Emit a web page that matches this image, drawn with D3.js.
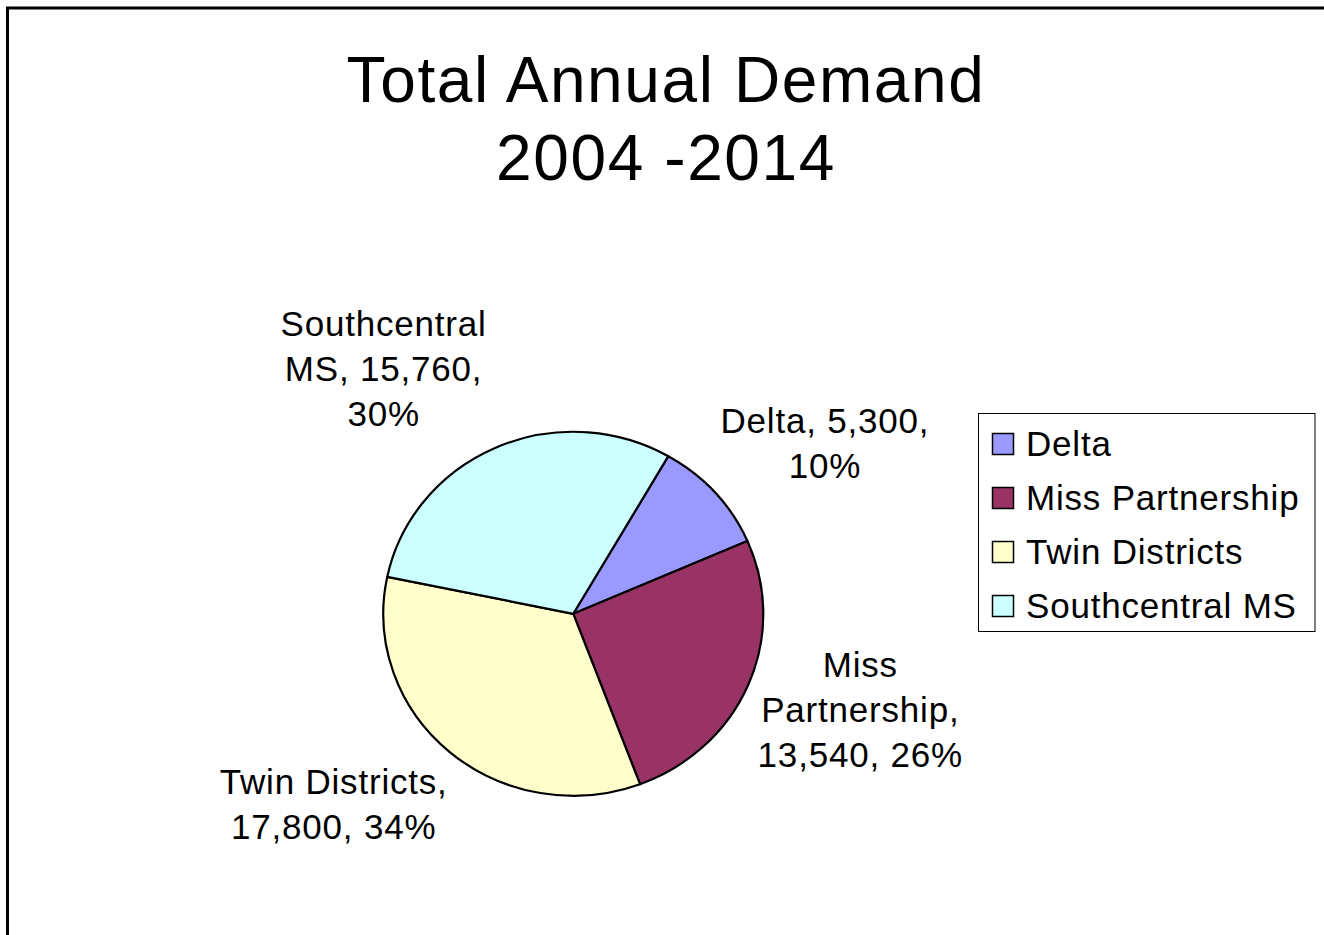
<!DOCTYPE html>
<html>
<head>
<meta charset="utf-8">
<script src="https://cdn.jsdelivr.net/npm/d3@7/dist/d3.min.js"></script>
<style>
  html, body { margin: 0; padding: 0; background: #fff; overflow: hidden; }
  svg { display: block; }
  text { font-family: "Liberation Sans", Arial, Helvetica, sans-serif; fill: #000; }
</style>
</head>
<body>
<svg id="chart" width="1324" height="935"></svg>
<script>
// Regional demand totals, 2004-2014
const categories = ["Delta", "Miss Partnership", "Twin Districts", "Southcentral MS"];
const values = [5300, 13540, 17800, 15760];
const colors = ["#9999FF", "#993366", "#FFFFCC", "#CCFFFF"];
const titleLines = ["Total Annual Demand", "2004 -2014"];
// words per label line, used to wrap "name, value, pct%" strings
const labelWrap = [[2, 1], [1, 1, 2], [2, 2], [1, 2, 1]];

const W = 1324, H = 935;
const svg = d3.select("#chart");

// Outer chart frame (extends past the window at right and bottom)
svg.append("rect")
  .attr("x", 7.5).attr("y", 8).attr("width", 1400).attr("height", 1000)
  .attr("fill", "#fff").attr("stroke", "#000").attr("stroke-width", 3);

// Title
svg.append("g").selectAll("text").data(titleLines).join("text")
  .attr("x", 666)
  .attr("y", (d, i) => 102 + i * 78)
  .attr("text-anchor", "middle")
  .attr("font-size", 64)
  .attr("letter-spacing", 1.6)
  .text(d => d);

// Pie
const cx = 573.3, cy = 613.8, rx = 190, ry = 182;
const startDeg = 30;
const pie = d3.pie().sort(null).value(d => d.value)
  .startAngle(startDeg * Math.PI / 180)
  .endAngle(startDeg * Math.PI / 180 + 2 * Math.PI);
const data = categories.map((c, i) => ({ name: c, value: values[i], color: colors[i] }));
const arcs = pie(data);
const arc = d3.arc().innerRadius(0).outerRadius(rx);

const pieG = svg.append("g")
  .attr("transform", `translate(${cx},${cy}) scale(1,${ry / rx})`);
pieG.selectAll("path").data(arcs).join("path")
  .attr("d", arc)
  .attr("fill", d => d.data.color)
  .attr("stroke", "#000")
  .attr("stroke-width", 2.2)
  .attr("vector-effect", "non-scaling-stroke")
  .attr("stroke-linejoin", "round");

// Data labels: "name, value, pct%" placed outside each slice
const total = d3.sum(values);
const fmt = d3.format(",");
const labelOffset = [[110, -50], [112, 25], [-116, 52], [-112, -79]];
const lineGap = 45, capHalf = 12.5;

const labelG = svg.append("g");
arcs.forEach((a, i) => {
  const mid = (a.startAngle + a.endAngle) / 2;
  const ex = cx + rx * Math.sin(mid);
  const ey = cy - ry * Math.cos(mid);
  const bx = ex + labelOffset[i][0];
  const by = ey + labelOffset[i][1];
  const pct = Math.round(a.data.value / total * 100);
  const words = `${a.data.name}, ${fmt(a.data.value)}, ${pct}%`.split(" ");
  const lines = [];
  let k = 0;
  labelWrap[i].forEach(n => { lines.push(words.slice(k, k + n).join(" ")); k += n; });
  const y0 = by - (lines.length - 1) * lineGap / 2 + capHalf;
  labelG.selectAll(null).data(lines).join("text")
    .attr("x", bx)
    .attr("y", (d, j) => y0 + j * lineGap)
    .attr("text-anchor", "middle")
    .attr("font-size", 35)
    .attr("letter-spacing", 0.8)
    .text(d => d);
});

// Legend
const lg = svg.append("g");
lg.append("rect")
  .attr("x", 978.5).attr("y", 413.5).attr("width", 336.5).attr("height", 218)
  .attr("fill", "#fff").attr("stroke", "#000").attr("stroke-width", 1);
const rows = lg.selectAll("g.row").data(data).join("g").attr("class", "row")
  .attr("transform", (d, i) => `translate(0,${444 + i * 54})`);
rows.append("rect")
  .attr("x", 992.5).attr("y", -10.5).attr("width", 21).attr("height", 21)
  .attr("fill", d => d.color).attr("stroke", "#000").attr("stroke-width", 1.5);
rows.append("text")
  .attr("x", 1026).attr("y", 12)
  .attr("font-size", 35)
  .attr("letter-spacing", 0.8)
  .text(d => d.name);
</script>
</body>
</html>
